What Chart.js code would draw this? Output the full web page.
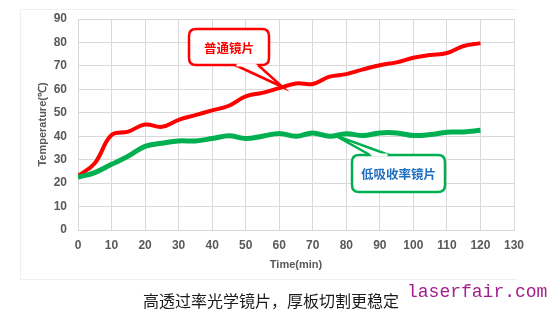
<!DOCTYPE html>
<html>
<head>
<meta charset="utf-8">
<script src="https://cdn.jsdelivr.net/npm/chart.js@4"></script>
<style>
  html, body { margin: 0; padding: 0; background: #fff; }
  #wrap { position: relative; width: 554px; height: 326px; overflow: hidden; }
  #caption {
    position: absolute; left: 143px; top: 288px;
    font: 16px "Noto Sans CJK SC", sans-serif; color: #1a1a1a; white-space: nowrap;
  }
  #mark {
    position: absolute; left: 407px; top: 282px;
    font: 18px "Liberation Mono", monospace; color: #a3208c; white-space: nowrap;
  }
</style>
</head>
<body>
<div id="wrap">
  <canvas id="tempChart" width="554" height="326"></canvas>
  <div id="caption">高透过率光学镜片，厚板切割更稳定</div>
  <div id="mark">laserfair.com</div>
</div>
<script>
// time points (min)
const times = [0, 5, 10, 15, 20, 25, 30, 35, 40, 45, 50, 55, 60,
               65, 70, 75, 80, 85, 90, 95, 100, 105, 110, 115, 120];

// 普通镜片 (red)
const normalLens = [23, 28.5, 40.5, 42, 45, 44, 47, 49, 51, 53, 57, 58.5, 60.5,
                    62.5, 62.3, 65.4, 66.5, 68.5, 70.3, 71.5, 73.5, 74.6, 75.5, 78.5, 79.7];

// 低吸收率镜片 (green)
const lowAbsLens = [22.5, 24.5, 28, 31.5, 35.7, 37, 38, 38, 39, 40.2, 39, 40, 41.2,
                    40, 41.4, 40, 41.1, 40.3, 41.4, 41.4, 40.3, 40.7, 41.7, 41.8, 42.5];

const seriesNames = ["普通镜片", "低吸收率镜片"];

const xTicks = [0, 130, 10];   // min, max, step
const yTicks = [0, 90, 10];

const gridColor = "#d9d9d9";
const tickColor = "#595959";

function toPoints(values) {
    return times.map((t, i) => ({ x: t, y: values[i] }));
}

function roundRect(ctx, x, y, w, h, r) {
    ctx.beginPath();
    ctx.moveTo(x + r, y);
    ctx.lineTo(x + w - r, y);
    ctx.quadraticCurveTo(x + w, y, x + w, y + r);
    ctx.lineTo(x + w, y + h - r);
    ctx.quadraticCurveTo(x + w, y + h, x + w - r, y + h);
    ctx.lineTo(x + r, y + h);
    ctx.quadraticCurveTo(x, y + h, x, y + h - r);
    ctx.lineTo(x, y + r);
    ctx.quadraticCurveTo(x, y, x + r, y);
    ctx.closePath();
}

// callout bubble: box + wedge pointing at a data position
function callout(ctx, box, wedge, tip, color, textColor, label) {
    ctx.save();
    ctx.lineWidth = 2.5;
    ctx.strokeStyle = color;
    ctx.fillStyle = "#fff";
    roundRect(ctx, box.x, box.y, box.w, box.h, 7);
    ctx.fill();
    ctx.stroke();

    ctx.beginPath();
    ctx.moveTo(wedge[0], wedge[2]);
    ctx.lineTo(tip.x, tip.y);
    ctx.lineTo(wedge[1], wedge[2]);
    ctx.closePath();
    ctx.fill();
    ctx.beginPath();
    ctx.moveTo(wedge[0], wedge[2]);
    ctx.lineTo(tip.x, tip.y);
    ctx.lineTo(wedge[1], wedge[2]);
    ctx.stroke();

    // cover box edge under the wedge opening
    ctx.fillRect(wedge[0] + 1.5, wedge[2] - 1.5, wedge[1] - wedge[0] - 3, 3);

    ctx.fillStyle = textColor;
    ctx.font = "bold 12.5px 'Noto Sans CJK SC', sans-serif";
    ctx.textAlign = "center";
    ctx.textBaseline = "middle";
    ctx.fillText(label, box.x + box.w / 2, box.y + box.h / 2 + 1);
    ctx.restore();
}

const calloutPlugin = {
    id: "callouts",
    beforeDraw(chart) {
        const c = chart.ctx;
        c.save();
        c.strokeStyle = "#efefef";
        c.lineWidth = 1;
        c.beginPath();
        c.moveTo(517, 9.5);
        c.lineTo(20.5, 9.5);
        c.lineTo(20.5, 279.5);
        c.lineTo(517, 279.5);
        c.stroke();
        c.restore();
    },
    afterDatasetsDraw(chart) {
        const c = chart.ctx;
        const xs = chart.scales.x;
        const ys = chart.scales.y;

        callout(c,
            { x: 189, y: 29, w: 80, h: 36 },
            [235, 258, 65],
            { x: xs.getPixelForValue(61), y: ys.getPixelForValue(61) },
            "#ff0000", "#ff0000", seriesNames[0]);

        callout(c,
            { x: 352, y: 155, w: 93, h: 37 },
            [370, 389, 155],
            { x: xs.getPixelForValue(76.5), y: ys.getPixelForValue(40.5) },
            "#00b050", "#1f6fbf", seriesNames[1]);
    }
};

const ctx = document.getElementById("tempChart").getContext("2d");

const tempChart = new Chart(ctx, {

    type: "line",

    data: {
        datasets: [
            {
                label: seriesNames[1],
                data: toPoints(lowAbsLens),
                borderColor: "#00b050",
                borderWidth: 5,
                pointRadius: 0,
                tension: 0.4,
                fill: false
            },
            {
                label: seriesNames[0],
                data: toPoints(normalLens),
                borderColor: "#ff0000",
                borderWidth: 4,
                pointRadius: 0,
                tension: 0.4,
                fill: false
            }
        ]
    },

    options: {

        responsive: false,
        animation: false,
        devicePixelRatio: 1,

        layout: {
            padding: { left: 36, top: 19, right: 40, bottom: 54 }
        },

        plugins: {
            legend: { display: false },
            tooltip: { enabled: false }
        },

        scales: {
            x: {
                type: "linear",
                min: xTicks[0],
                max: xTicks[1],
                afterFit(scale) { scale.height = 42; },
                ticks: {
                    stepSize: xTicks[2],
                    color: tickColor,
                    padding: 8,
                    maxRotation: 0,
                    font: { family: "Liberation Sans", size: 12, weight: "bold" }
                },
                grid: { color: gridColor, drawTicks: false },
                border: { color: gridColor },
                title: {
                    display: true,
                    text: "Time(min)",
                    color: tickColor,
                    padding: { top: 3, bottom: 0 },
                    font: { family: "Liberation Sans", size: 11, weight: "bold" }
                }
            },
            y: {
                min: yTicks[0],
                max: yTicks[1],
                afterFit(scale) { scale.width = 42; },
                ticks: {
                    stepSize: yTicks[2],
                    color: tickColor,
                    padding: 11,
                    font: { family: "Liberation Sans", size: 12, weight: "bold" }
                },
                grid: { color: gridColor, drawTicks: false },
                border: { color: gridColor },
                title: {
                    display: true,
                    text: "Temperature(℃)",
                    color: tickColor,
                    padding: { top: 0, bottom: 0 },
                    font: { family: "Liberation Sans", size: 11, weight: "bold" }
                }
            }
        }
    },

    plugins: [calloutPlugin]

});
</script>
</body>
</html>
